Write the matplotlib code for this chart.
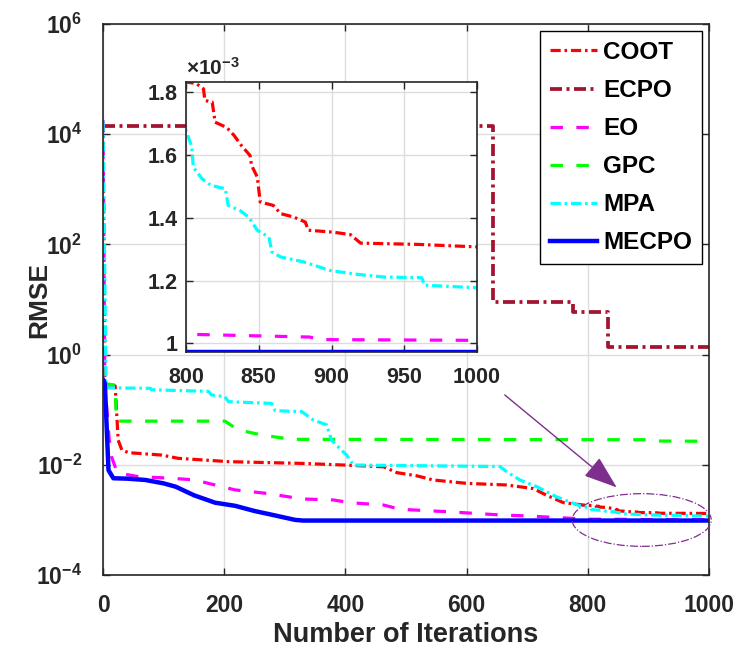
import matplotlib
matplotlib.use("Agg")
import matplotlib.pyplot as plt
from matplotlib.patches import Ellipse
from matplotlib.ticker import FixedLocator, FixedFormatter, FuncFormatter
import numpy as np

# fonts: MATLAB-like bold Helvetica/Arial look
plt.rcParams['font.family'] = ['Liberation Sans', 'DejaVu Sans']
plt.rcParams['font.weight'] = 'bold'
plt.rcParams['axes.labelweight'] = 'bold'
plt.rcParams['mathtext.fontset'] = 'custom'
plt.rcParams['mathtext.rm'] = 'Liberation Sans:bold'
plt.rcParams['mathtext.bf'] = 'Liberation Sans:bold'
plt.rcParams['mathtext.default'] = 'rm'

# ---- data (iteration, RMSE) ----
coot_it = [0, 3, 8, 20, 25, 31, 42, 97, 124, 207, 328, 397, 463, 485, 518, 545, 600,
           666, 710, 732, 760, 793, 800, 807, 812, 813, 818, 820, 828, 833, 838, 844,
           845, 849, 851, 860, 865, 874, 882, 884, 901, 913, 920, 959, 1000]
coot_rmse = [1.7e4, 0.3, 0.28, 0.27, 0.028, 0.0186, 0.0166, 0.015, 0.0131, 0.0114,
             0.0106, 0.0099, 0.0092, 0.0072, 0.0063, 0.0053, 0.0046, 0.0043, 0.0037,
             0.0028, 0.00205, 0.00186, 1.832e-3, 1.827e-3, 1.81e-3, 1.773e-3, 1.768e-3,
             1.704e-3, 1.687e-3, 1.662e-3, 1.630e-3, 1.598e-3, 1.567e-3, 1.529e-3,
             1.45e-3, 1.439e-3, 1.413e-3, 1.402e-3, 1.386e-3, 1.360e-3, 1.354e-3,
             1.346e-3, 1.319e-3, 1.315e-3, 1.307e-3]

ecpo_it = [0, 644, 776, 833, 1000]
ecpo_rmse = [1.41e4, 9.0, 6.0, 1.38, 1.38]

eo_it = [0, 3, 10, 14, 22, 28, 58, 113, 152, 174, 218, 273, 328, 380, 408, 463, 490,
         567, 655, 700, 800, 885, 892, 1000]
eo_rmse = [1.8e4, 0.3, 0.03, 0.014, 0.008, 0.007, 0.0061, 0.0057, 0.0053, 0.0046,
           0.0035, 0.0030, 0.0024, 0.0023, 0.00205, 0.00186, 0.00156, 0.00141,
           0.00123, 0.00118, 1.029e-3, 1.020e-3, 1.012e-3, 1.0095e-3]

gpc_it = [0, 3, 9, 20, 22, 201, 223, 262, 311, 900, 920, 1000]
gpc_rmse = [0.32, 0.3, 0.29, 0.28, 0.062, 0.062, 0.043, 0.0347, 0.029, 0.0285,
            0.027, 0.0267]

mpa_it = [0, 5, 78, 80, 174, 179, 201, 207, 278, 284, 328, 347, 369, 377, 402, 413,
          655, 666, 688, 716, 749, 787, 800, 804, 805, 811, 817, 827, 829, 837, 843,
          849, 857, 859, 865, 881, 899, 917, 936, 962, 964, 1000]
mpa_rmse = [1.75e4, 0.25, 0.244, 0.23, 0.215, 0.185, 0.172, 0.14, 0.13, 0.096, 0.092,
            0.065, 0.053, 0.028, 0.015, 0.0099, 0.0093, 0.0075, 0.0053, 0.004, 0.0026,
            0.0018, 1.678e-3, 1.625e-3, 1.561e-3, 1.524e-3, 1.503e-3, 1.492e-3,
            1.439e-3, 1.423e-3, 1.402e-3, 1.36e-3, 1.338e-3, 1.291e-3, 1.275e-3,
            1.259e-3, 1.232e-3, 1.22e-3, 1.211e-3, 1.209e-3, 1.185e-3, 1.177e-3]

mecpo_it = [0, 3, 9, 17, 40, 70, 100, 120, 150, 185, 218, 250, 280, 317, 330, 1000]
mecpo_rmse = [0.35, 0.3, 8e-3, 5.7e-3, 5.6e-3, 5.3e-3, 4.6e-3, 4.0e-3, 2.8e-3,
              2.05e-3, 1.8e-3, 1.45e-3, 1.23e-3, 1.0e-3, 0.9725e-3, 0.9725e-3]

names = ['COOT', 'ECPO', 'EO', 'GPC', 'MPA', 'MECPO']
colors = ['#FF0000', '#A2142F', '#FF00FF', '#00FF00', '#00FFFF', '#0000FF']

ytick_vals = [1e-4, 1e-2, 1e0, 1e2, 1e4, 1e6]
ytick_labels = [r'$10^{-4}$', r'$10^{-2}$', r'$10^{0}$', r'$10^{2}$', r'$10^{4}$', r'$10^{6}$']
xtick_vals = [0, 200, 400, 600, 800, 1000]
inset_xticks = [800, 850, 900, 950, 1000]
inset_yticks = [1.0e-3, 1.2e-3, 1.4e-3, 1.6e-3, 1.8e-3]

dashdot = (3.2, 1.2, 0.8, 1.2)
dashed = (3.9, 4.2)
gray = '#262626'


def draw_curves(ax):
    ax.plot(coot_it, coot_rmse, color=colors[0], lw=2.3, dashes=dashdot, label=names[0])
    ax.plot(ecpo_it, ecpo_rmse, color=colors[1], lw=2.7, dashes=dashdot,
            drawstyle='steps-post', label=names[1])
    ax.plot(eo_it, eo_rmse, color=colors[2], lw=2.3, dashes=dashed, label=names[2])
    ax.plot(gpc_it, gpc_rmse, color=colors[3], lw=2.3, dashes=dashed, label=names[3])
    ax.plot(mpa_it, mpa_rmse, color=colors[4], lw=2.3, dashes=dashdot, label=names[4])
    ax.plot(mecpo_it, mecpo_rmse, color=colors[5], lw=3.2, ls='-', label=names[5])


def style_axes(ax, xpad, ypad, size):
    ax.tick_params(which='both', direction='in', top=True, right=True, colors=gray,
                   labelsize=size, width=1.0, length=5)
    ax.tick_params(axis='x', pad=xpad)
    ax.tick_params(axis='y', pad=ypad)
    for s in ax.spines.values():
        s.set_color(gray)
        s.set_linewidth(1.2)
    ax.grid(True, color='#dcdcdc', lw=1.0)
    ax.set_axisbelow(True)


fig = plt.figure(figsize=(7.37, 6.5), dpi=100)
ax = fig.add_axes([0.1398, 0.1154, 0.8222, 0.8477])
draw_curves(ax)
ax.set_yscale('log')
ax.set_xlim(0, 1000)
ax.set_ylim(1e-4, 1e6)
ax.yaxis.set_major_locator(FixedLocator(ytick_vals))
ax.yaxis.set_major_formatter(FixedFormatter(ytick_labels))
ax.yaxis.set_minor_locator(FixedLocator([]))
ax.set_xticks(xtick_vals)
style_axes(ax, 14, 15, 16.5)
ax.set_xlabel('Number of Iterations', fontsize=19.5, color=gray, labelpad=3)
ax.set_ylabel('RMSE', fontsize=19, color=gray)
ax.yaxis.set_label_coords(-0.085, 0.5)

leg = ax.legend(loc='upper right', fontsize=17.5, frameon=True, fancybox=False,
                framealpha=1, edgecolor='#000000', borderaxespad=0.3,
                handlelength=1.95, handletextpad=0.25, labelspacing=0.62,
                borderpad=0.4)
leg.get_frame().set_linewidth(1.0)

# zoom marker: ellipse and arrow
ell = Ellipse((0.889, 0.0998), 0.2294, 0.0956, transform=ax.transAxes, fill=False,
              edgecolor='#7E2F8E', lw=0.9, ls='-.', clip_on=False, zorder=5)
ax.add_patch(ell)
ax.annotate('', xy=(0.8477, 0.159), xytext=(0.663, 0.3267),
            xycoords='axes fraction', textcoords='axes fraction',
            arrowprops=dict(arrowstyle='-|>,head_length=1.4,head_width=0.5',
                            color='#7E2F8E', lw=1.0, mutation_scale=15,
                            shrinkA=0, shrinkB=0))

# inset with the last 200 iterations
ins = fig.add_axes([0.2524, 0.4585, 0.3948, 0.4154])
ins.set_facecolor('white')
draw_curves(ins)
ins.set_xlim(800, 1000)
ins.set_ylim(0.9725e-3, 1.832e-3)
ins.set_xticks(inset_xticks)
ins.set_yticks(inset_yticks)
ins.yaxis.set_major_formatter(FuncFormatter(lambda v, pos: f'{v * 1e3:g}'))
style_axes(ins, 11, 6, 15.5)
ins.text(0.0, 1.01, r'$\times10^{-3}$', transform=ins.transAxes, ha='left',
         va='bottom', fontsize=15, color=gray)

fig.savefig('out.png', dpi=100)
